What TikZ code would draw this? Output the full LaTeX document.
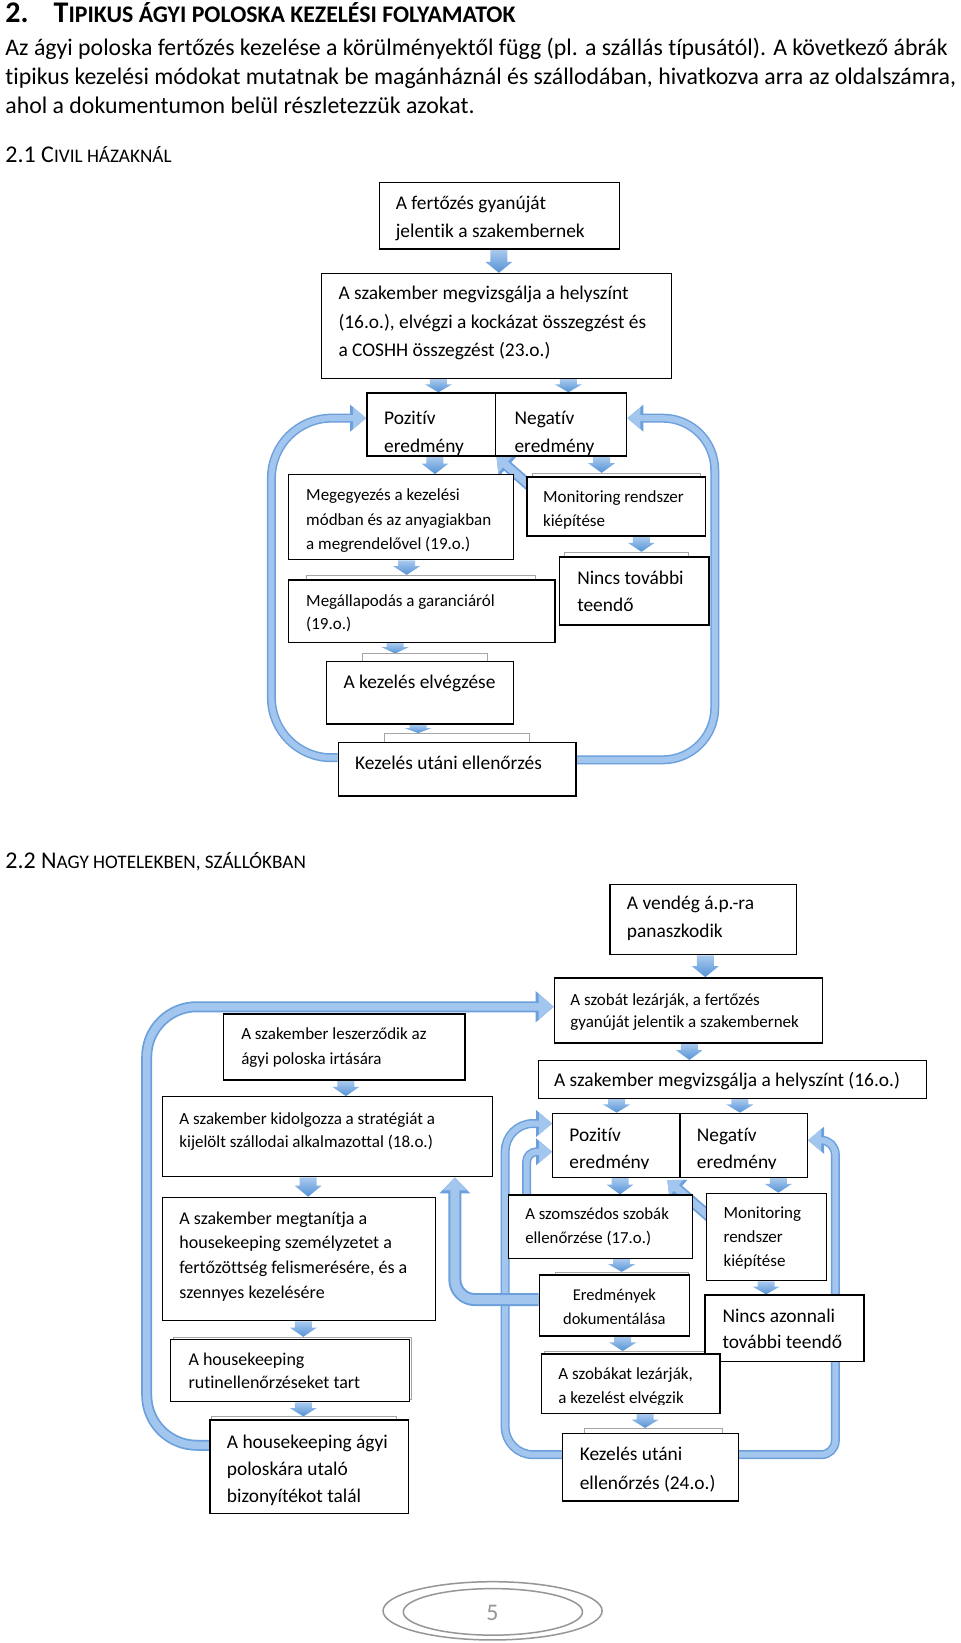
\documentclass[tikz,border=0pt]{standalone}
\usepackage{fontspec}
\setmainfont{Carlito}[Ligatures=NoCommon]
\usetikzlibrary{arrows.meta,fit,calc}
\definecolor{arL}{RGB}{170,202,238}
\definecolor{arD}{RGB}{84,146,214}
\definecolor{lpD}{RGB}{108,160,220}
\definecolor{lpL}{RGB}{162,198,238}
\definecolor{bkG}{RGB}{165,165,165}
\definecolor{pgG}{RGB}{150,150,150}
\pgfdeclarelayer{pagebg}
\pgfdeclarelayer{bg}
\pgfsetlayers{pagebg,bg,main}
\tikzset{
 box/.style={draw=black, line width=1.4pt, fill=white, inner sep=0pt},
 bkbox/.style={draw=bkG, line width=1pt, fill=white, inner sep=0pt},
 txt/.style={anchor=base west, inner sep=0pt},
 txtc/.style={anchor=base, inner sep=0pt},
 lpO/.style={draw=lpD, line width=9pt, -{Triangle[width=26pt,length=16pt]}},
 lpI/.style={draw=lpL, line width=6pt, -{Triangle[width=21pt,length=13pt]}},
 lpbO/.style={draw=lpD, line width=11pt, -{Triangle[width=30pt,length=18pt]}},
 lpbI/.style={draw=lpL, line width=7.5pt, -{Triangle[width=24pt,length=15pt]}},
 lptO/.style={draw=lpD, line width=13pt, -{Triangle[width=30pt,length=16pt]}},
 lptI/.style={draw=lpL, line width=9pt, -{Triangle[width=24pt,length=13pt]}},
 dgO/.style={draw=lpD, line width=11pt, -{Triangle[width=26pt,length=15pt]}},
 dgI/.style={draw=lpL, line width=7.5pt, -{Triangle[width=21pt,length=12pt]}},
}
\newcommand\bx[5]{\node[box, fit={(#2,#3) (#4,#5)}] (#1) {};}
\newcommand\bk[5]{\node[bkbox, fit={(#2,#3) (#4,#5)}] (#1) {};}
\newcommand\tx[5]{\node[txt] (#1) at (#2,#3) {#4\begin{tabular}[t]{@{}l@{}}#5\end{tabular}};}
\newcommand\txc[5]{\node[txtc] (#1) at (#2,#3) {#4\begin{tabular}[t]{@{}c@{}}#5\end{tabular}};}
\newcommand\fsz[2]{\fontsize{#1}{#2}\selectfont}
\newcommand\barr[3]{%
 \path (#1,0) coordinate (bxx);
 \shade[top color=arL, bottom color=arD]
 let \p1=(#2 -| bxx), \p2=(#3 -| bxx), \n1={min(11,0.6*(\y1-\y2))} in
 ({\x1-8.5pt},\y1) -- ({\x1+8.5pt},\y1) -- ({\x1+8.5pt},{\y2+\n1*1pt}) -- ({\x1+13.5pt},{\y2+\n1*1pt}) -- (\x1,\y2) -- ({\x1-13.5pt},{\y2+\n1*1pt}) -- ({\x1-8.5pt},{\y2+\n1*1pt}) -- cycle;}
\newcommand\lp[2]{\draw[#1O] #2; \draw[#1I] #2;}
\begin{document}
\begin{tikzpicture}[x=1.048pt,y=-1.048pt]
\begin{pgfonlayer}{pagebg}
\fill[white] (0,0) rectangle (916,1567.7);
\end{pgfonlayer}
\useasboundingbox (0,0) rectangle (916,1567.7);

% ---------- header ----------
\node[txt] (h1n) at (5,21) {\bfseries\fsz{30}{34}2.};
\node[txt] (h1) at (51,21) {\bfseries\fsz{30}{34}T\fsz{23.8}{28}IPIKUS ÁGYI POLOSKA KEZELÉSI FOLYAMATOK};
\tx{par}{5}{52.8}{\fsz{23.8}{29}}{Az ágyi poloska fertőzés kezelése a körülményektől függ (pl. a szállás típusától). A következő ábrák\\tipikus kezelési módokat mutatnak be magánháznál és szállodában, hivatkozva arra az oldalszámra,\\ahol a dokumentumon belül részletezzük azokat.}
\node[txt] (h21) at (5,155) {\fsz{24}{28}2.1 C\fsz{19.2}{23}IVIL HÁZAKNÁL};
\node[txt] (h22) at (5,829) {\fsz{24}{28}2.2 N\fsz{19.2}{23}AGY HOTELEKBEN, SZÁLLÓKBAN};

% ---------- 2.1 boxes ----------
\bk{monB}{508}{451.7}{668}{470}
\bk{ninB}{539}{527}{657}{545}
\bk{mgaB}{292}{549}{511}{570}
\bk{kezB}{346}{624}{465}{645}
\bk{kutB}{367}{700}{505}{720}
\bx{A}{362}{174}{591}{237.5}
\bx{B}{307}{261}{641}{361}
\bx{poz}{350}{375}{473}{435}
\bx{neg}{473}{375}{598}{435}
\bx{meg}{275}{453}{490}{534}
\bx{mon}{503}{455}{673}{511.5}
\bx{nin}{534}{531.5}{676.5}{596.4}
\bx{mga}{275}{553.4}{529.6}{612.9}
\bx{kez}{311.7}{631.4}{489.8}{690.8}
\bx{kut}{322.8}{708.6}{549.6}{759.5}

\tx{At}{377.5}{200}{\fsz{19.4}{28.3}}{A fertőzés gyanúját\\jelentik a szakembernek}
\tx{Bt}{322.8}{286}{\fsz{19.4}{28.3}}{A szakember megvizsgálja a helyszínt\\(16.o.), elvégzi a kockázat összegzést és\\a COSHH összegzést (23.o.)}
\begin{scope}
\clip (350,375) rectangle (598,433.3);
\tx{pozt}{366.4}{405}{\fsz{19.4}{28.3}}{Pozitív\\eredmény}
\tx{negt}{490.8}{405}{\fsz{19.4}{28.3}}{Negatív\\eredmény}
\end{scope}
\tx{megt}{292}{478}{\fsz{17}{24.2}}{Megegyezés a kezelési\\módban és az anyagiakban\\a megrendelővel (19.o.)}
\tx{mont}{518}{479.5}{\fsz{17}{24.2}}{Monitoring rendszer\\kiépítése}
\tx{nint}{550.6}{557.6}{\fsz{19.4}{26.9}}{Nincs további\\teendő}
\tx{mgat}{292}{578.5}{\fsz{17}{23.5}}{Megállapodás a garanciáról\\(19.o.)}
\tx{kezt}{327.6}{657.4}{\fsz{19.4}{28.3}}{A kezelés elvégzése}
\tx{kutt}{338.7}{734.4}{\fsz{19.4}{28.3}}{Kezelés utáni ellenőrzés}

% ---------- 2.2 boxes ----------
\bk{ereB}{529.6}{1214}{656.5}{1230}
\bk{szkB}{520}{1289.6}{684}{1305}
\bk{ku2B}{558}{1363}{689}{1380}
\bk{hkB}{202}{1352}{378}{1370}
\bk{rutB}{166}{1276}{393}{1335}
\bx{ven}{582}{844}{760}{911}
\bx{szb}{529}{933}{785}{995}
\bx{mvz}{514}{1012}{884}{1048}
\bx{poz2}{527.4}{1062.3}{648.9}{1123.4}
\bx{neg2}{648.9}{1062.3}{770.3}{1123.4}
\bx{les}{213}{967.6}{443.7}{1030.5}
\bx{kid}{155.2}{1046.5}{470}{1122.8}
\bx{tan}{155.2}{1142.5}{415.4}{1260.2}
\bx{rut}{162.8}{1278}{390.5}{1337.5}
\bx{hk}{200.4}{1355}{389.6}{1444}
\bx{szo}{485}{1140.3}{660.6}{1200.7}
\bx{mo2}{674.3}{1138.7}{788.8}{1222}
\bx{ere}{514.6}{1216.6}{657.7}{1274.8}
\bx{nia}{672.7}{1235.7}{824.4}{1299.3}
\bx{szk}{516.9}{1292}{687}{1348.6}
\bx{ku2}{536.9}{1367.6}{704.5}{1432}

\tx{vent}{598}{867.8}{\fsz{19.4}{28.5}}{A vendég á.p.-ra\\panaszkodik}
\tx{szbt}{544}{959}{\fsz{17}{22.5}}{A szobát lezárják, a fertőzés\\gyanúját jelentik a szakembernek}
\tx{mvzt}{528.5}{1036.5}{\fsz{19.4}{28.3}}{A szakember megvizsgálja a helyszínt (16.o.)}
\begin{scope}
\clip (527.4,1062.3) rectangle (770.3,1115.3);
\tx{poz2t}{543.2}{1089}{\fsz{19.4}{26.7}}{Pozitív\\eredmény}
\tx{neg2t}{664.8}{1089}{\fsz{19.4}{26.7}}{Negatív\\eredmény}
\end{scope}
\tx{lest}{230}{992}{\fsz{17}{24.4}}{A szakember leszerződik az\\ágyi poloska irtására}
\tx{kidt}{171}{1072.5}{\fsz{17}{23.4}}{A szakember kidolgozza a stratégiát a\\kijelölt szállodai alkalmazottal (18.o.)}
\tx{tant}{171}{1168}{\fsz{18}{24.8}}{A szakember megtanítja a\\housekeeping személyzetet a\\fertőzöttség felismerésére, és a\\szennyes kezelésére}
\tx{rutt}{179.7}{1303}{\fsz{18}{22.6}}{A housekeeping\\rutinellenőrzéseket tart}
\tx{hkt}{216.3}{1382}{\fsz{19.4}{27.2}}{A housekeeping ágyi\\poloskára utaló\\bizonyítékot talál}
\tx{szot}{501}{1163.3}{\fsz{16.8}{24.3}}{A szomszédos szobák\\ellenőrzése (17.o.)}
\tx{mo2t}{690.2}{1162.5}{\fsz{17}{24.2}}{Monitoring\\rendszer\\kiépítése}
\txc{eret}{586.2}{1241}{\fsz{16.5}{23.4}}{Eredmények\\dokumentálása}
\tx{niat}{689.2}{1261.4}{\fsz{19.4}{26.7}}{Nincs azonnali\\további teendő}
\begin{scope}
\clip (516.9,1292) rectangle (687,1340);
\tx{szkt}{532.7}{1316}{\fsz{17}{24}}{A szobákat lezárják,\\a kezelést elvégzik}
\end{scope}
\tx{ku2t}{553}{1394}{\fsz{19.4}{28.3}}{Kezelés utáni\\ellenőrzés (24.o.)}

% ---------- page number ----------
\draw[pgG, line width=1.5pt] (470,1537) ellipse [x radius=104.5, y radius=27.8];
\draw[pgG, line width=1.5pt] (470.3,1538) ellipse [x radius=85.5, y radius=22.2];
\node[inner sep=0pt, text=pgG] (pg) at (469.8,1538.8) {\fsz{23.8}{28}5};

% ---------- connectors (behind boxes) ----------
\begin{pgfonlayer}{bg}
% 2.1 loops
\lp{lp}{(kut.west |- 0,723) [rounded corners=60pt] -- (259,723) -- (259,399) -- (poz.west |- 0,399)}
\lp{lp}{(kut.east |- 0,725) [rounded corners=52pt] -- (682,725) -- (682,399) -- (neg.east |- 0,399)}
\lp{dg}{([xshift=12.6pt,yshift=-17.8pt]mon.north west) -- (poz.south east)}
% 2.1 block arrows
\barr{476}{A.south}{B.north}
\barr{418.3}{B.south}{poz.north}
\barr{542.3}{B.south}{neg.north}
\barr{415}{poz.south}{meg.north}
\barr{574}{neg.south}{monB.north}
\barr{612}{mon.south}{ninB.north}
\barr{388}{meg.south}{mgaB.north}
\barr{377}{mga.south}{kezB.north}
\barr{399}{kez.south}{kutB.north}
% 2.2 loops
\lp{lpb}{(hk.west |- 0,1379) [rounded corners=50pt] -- (140,1379) -- (140,960.6) -- (szb.west |- 0,960.6)}
\lp{lp}{(ku2.west |- 0,1388) [rounded corners=28pt] -- (482,1388) -- (482,1072) -- (poz2.west |- 0,1072)}
\lp{lp}{(szo.north -| 502.5,0) [rounded corners=10pt] -- (502.5,1099) -- (poz2.west |- 0,1099)}
\lp{lp}{(ku2.east |- 0,1388) [rounded corners=14pt] -- (797,1388) -- (797,1088) -- (neg2.east |- 0,1088)}
\lp{lpt}{(ere.west |- 0,1240) [rounded corners=20pt] -- (434,1240) -- (kid.south -| 434,0)}
\lp{dg}{([xshift=12.6pt,yshift=-32pt]mo2.north west) -- ([xshift=-13.5pt,yshift=-2pt]poz2.south east)}
% 2.2 block arrows
\barr{673}{ven.south}{szb.north}
\barr{657.7}{szb.south}{mvz.north}
\barr{588.4}{mvz.south}{poz2.north}
\barr{706}{mvz.south}{neg2.north}
\barr{591.6}{poz2.south}{szo.north}
\barr{742.7}{neg2.south}{mo2.north}
\barr{593.2}{szo.south}{ereB.north}
\barr{731}{mo2.south}{nia.north}
\barr{594.2}{ere.south}{szkB.north}
\barr{615.5}{szk.south}{ku2B.north}
\barr{330}{les.south}{kid.north}
\barr{294}{kid.south}{tan.north}
\barr{289.4}{tan.south}{rutB.north}
\barr{289.4}{rut.south}{hkB.north}
\end{pgfonlayer}
\end{tikzpicture}
\end{document}
